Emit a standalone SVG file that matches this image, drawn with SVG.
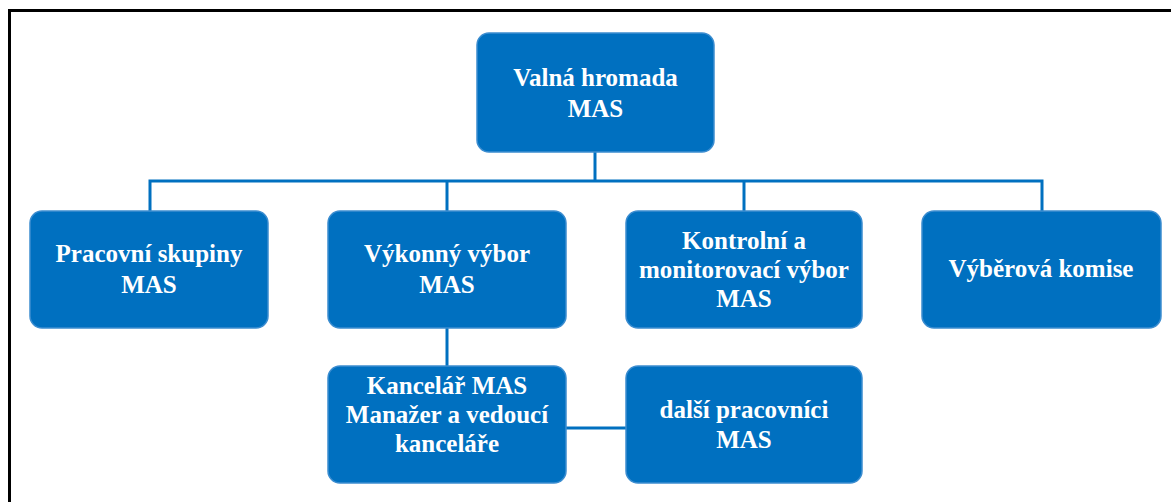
<svg xmlns="http://www.w3.org/2000/svg" width="1171" height="502" viewBox="0 0 1171 502">
<style>
.box{fill:#0070C0;stroke:#3C8DD0;stroke-width:1.5}
.t{font-family:"Liberation Serif","Times New Roman",serif;font-weight:bold;font-size:25px;fill:#ffffff;text-anchor:middle}
.c{fill:none;stroke:#0070C0;stroke-width:3}
</style>
<rect x="0" y="0" width="1171" height="502" fill="#ffffff"/>
<path d="M9.5,502 V10.5 H1171" fill="none" stroke="#000000" stroke-width="3"/>
<g id="connectors">
<path class="c" d="M595,152 V181"/>
<path class="c" d="M150,211 V181 H1042 V211"/>
<path class="c" d="M447,181 V211"/>
<path class="c" d="M744,181 V211"/>
<path class="c" d="M447,328 V366"/>
<path class="c" d="M566,428 H626"/>
</g>
<g id="valna-hromada">
<rect class="box" x="477" y="33" width="237" height="119" rx="12"/>
<text class="t" x="595.5" y="86">Valná hromada</text>
<text class="t" x="595.5" y="117">MAS</text>
</g>
<g id="pracovni-skupiny">
<rect class="box" x="30" y="211" width="238" height="117" rx="12"/>
<text class="t" x="149" y="262">Pracovní skupiny</text>
<text class="t" x="149" y="293">MAS</text>
</g>
<g id="vykonny-vybor">
<rect class="box" x="328" y="211" width="238" height="117" rx="12"/>
<text class="t" x="447" y="262">Výkonný výbor</text>
<text class="t" x="447" y="293">MAS</text>
</g>
<g id="kontrolni-vybor">
<rect class="box" x="626" y="211" width="236" height="117" rx="12"/>
<text class="t" x="744" y="249">Kontrolní a</text>
<text class="t" x="744" y="278">monitorovací výbor</text>
<text class="t" x="744" y="307">MAS</text>
</g>
<g id="vyberova-komise">
<rect class="box" x="922" y="211" width="239" height="117" rx="12"/>
<text class="t" x="1041" y="277">Výběrová komise</text>
</g>
<g id="kancelar">
<rect class="box" x="328" y="366" width="238" height="117" rx="12"/>
<text class="t" x="447" y="394">Kancelář MAS</text>
<text class="t" x="447" y="423">Manažer a vedoucí</text>
<text class="t" x="447" y="452">kanceláře</text>
</g>
<g id="dalsi-pracovnici">
<rect class="box" x="626" y="366" width="236" height="117" rx="12"/>
<text class="t" x="744" y="418">další pracovníci</text>
<text class="t" x="744" y="448">MAS</text>
</g>
</svg>
